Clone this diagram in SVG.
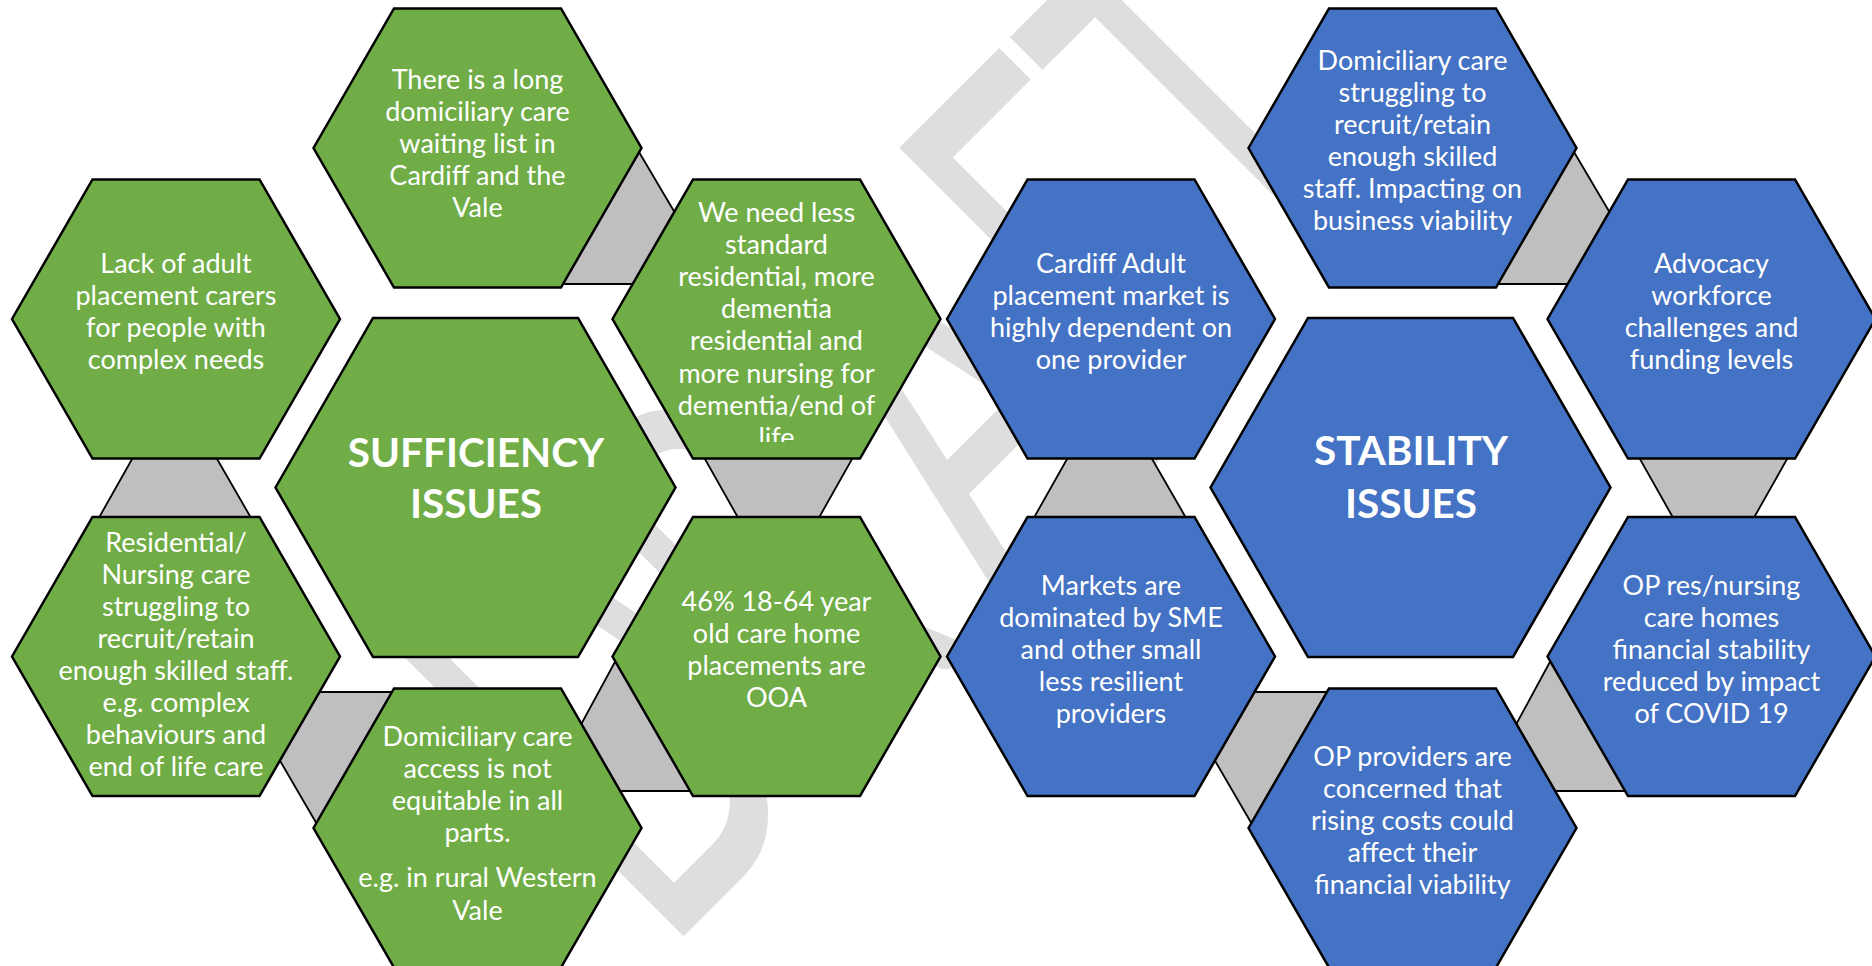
<svg xmlns="http://www.w3.org/2000/svg" xmlns:xlink="http://www.w3.org/1999/xlink" width="1872" height="966" viewBox="0 0 1872 966">
<defs>
<style>
.g{fill:#70ad47;stroke:#000;stroke-width:2.5;stroke-linejoin:miter}
.b{fill:#4472c4;stroke:#000;stroke-width:2.5;stroke-linejoin:miter}
.con{fill:#bfbfbf;stroke:#000;stroke-width:1.8;stroke-linejoin:miter}
.t{font-family:Lato,"Open Sans","Liberation Sans",sans-serif;font-size:27px;fill:#fff;text-anchor:middle}
.h{font-family:Lato,"Open Sans","Liberation Sans",sans-serif;font-size:40.5px;font-weight:bold;fill:#fff;text-anchor:middle}
.wm{font-family:Lato,"Liberation Sans",sans-serif;font-size:320px;fill:#dedede}
</style>
<path id="hs" d="M-164,0 L-83.5,-139.5 L83.5,-139.5 L164,0 L83.5,139.5 L-83.5,139.5Z"/>
<path id="hb" d="M-200,0 L-102.5,-169.5 L102.5,-169.5 L200,0 L102.5,169.5 L-102.5,169.5Z"/>
<clipPath id="clipLife"><rect x="600" y="160" width="360" height="282"/></clipPath>
</defs>
<rect width="1872" height="966" fill="#fff"/>
<g id="watermark" transform="translate(899,148) rotate(-45)">
<text class="wm" transform="translate(0,405) scale(1,1.766)"><tspan x="-739" y="0">D</tspan><tspan x="-499" y="0">R</tspan><tspan x="-252" y="0">A</tspan><tspan x="-29" y="0">F</tspan><tspan x="152" y="0">T</tspan></text>
</g>
<g id="connectors">
<polygon class="con" points="639,152 717,284 562,284"/>
<polygon class="con" points="697,445 860,445 812,530 745,530"/>
<polygon class="con" points="616,660 545,791 695,791"/>
<polygon class="con" points="318,826 240,692 398,692"/>
<polygon class="con" points="140,445 209,445 258,530 92,530"/>
<g transform="translate(935,0)">
<polygon class="con" points="639,152 717,284 562,284"/>
<polygon class="con" points="697,445 860,445 812,530 745,530"/>
<polygon class="con" points="616,660 545,791 695,791"/>
<polygon class="con" points="318,826 240,692 398,692"/>
<polygon class="con" points="140,445 209,445 258,530 92,530"/>
</g>
</g>
<g id="g-top"><use xlink:href="#hs" class="g" x="477.5" y="148"/>
<text class="t"><tspan x="477.5" y="89">There is a long</tspan><tspan x="477.5" y="121">domiciliary care</tspan><tspan x="477.5" y="153">waiting list in</tspan><tspan x="477.5" y="185">Cardiff and the</tspan><tspan x="477.5" y="217">Vale</tspan></text></g>
<g id="g-ul"><use xlink:href="#hs" class="g" x="176" y="319"/>
<text class="t"><tspan x="176" y="273">Lack of adult</tspan><tspan x="176" y="305">placement carers</tspan><tspan x="176" y="337">for people with</tspan><tspan x="176" y="369">complex needs</tspan></text></g>
<g id="g-ur"><use xlink:href="#hs" class="g" x="776.5" y="319"/>
<text class="t" clip-path="url(#clipLife)"><tspan x="776.5" y="222">We need less</tspan><tspan x="776.5" y="254">standard</tspan><tspan x="776.5" y="286">residential, more</tspan><tspan x="776.5" y="318">dementia</tspan><tspan x="776.5" y="350">residential and</tspan><tspan x="776.5" y="383">more nursing for</tspan><tspan x="776.5" y="415">dementia/end of</tspan><tspan x="776.5" y="447">life</tspan></text></g>
<g id="g-center"><use xlink:href="#hb" class="g" x="475.5" y="487.5"/>
<text class="h"><tspan x="476" y="467">SUFFICIENCY</tspan><tspan x="476" y="518">ISSUES</tspan></text></g>
<g id="g-ll"><use xlink:href="#hs" class="g" x="176" y="656.5"/>
<text class="t"><tspan x="176" y="552">Residential/</tspan><tspan x="176" y="584">Nursing care</tspan><tspan x="176" y="616">struggling to</tspan><tspan x="176" y="648">recruit/retain</tspan><tspan x="176" y="680">enough skilled staff.</tspan><tspan x="176" y="712">e.g. complex</tspan><tspan x="176" y="744">behaviours and</tspan><tspan x="176" y="776">end of life care</tspan></text></g>
<g id="g-lr"><use xlink:href="#hs" class="g" x="776.5" y="656.5"/>
<text class="t"><tspan x="776.5" y="611">46% 18-64 year</tspan><tspan x="776.5" y="643">old care home</tspan><tspan x="776.5" y="675">placements are</tspan><tspan x="776.5" y="707">OOA</tspan></text></g>
<g id="g-bottom"><use xlink:href="#hs" class="g" x="477.5" y="828"/>
<text class="t"><tspan x="477.5" y="746">Domiciliary care</tspan><tspan x="477.5" y="778">access is not</tspan><tspan x="477.5" y="810">equitable in all</tspan><tspan x="477.5" y="842">parts.</tspan><tspan x="477.5" y="887">e.g. in rural Western</tspan><tspan x="477.5" y="920">Vale</tspan></text></g>
<g id="b-top"><use xlink:href="#hs" class="b" x="1412.5" y="148"/>
<text class="t"><tspan x="1412.5" y="70">Domiciliary care</tspan><tspan x="1412.5" y="102">struggling to</tspan><tspan x="1412.5" y="134">recruit/retain</tspan><tspan x="1412.5" y="166">enough skilled</tspan><tspan x="1412.5" y="198">staff. Impacting on</tspan><tspan x="1412.5" y="230">business viability</tspan></text></g>
<g id="b-ul"><use xlink:href="#hs" class="b" x="1111" y="319"/>
<text class="t"><tspan x="1111" y="273">Cardiff Adult</tspan><tspan x="1111" y="305">placement market is</tspan><tspan x="1111" y="337">highly dependent on</tspan><tspan x="1111" y="369">one provider</tspan></text></g>
<g id="b-ur"><use xlink:href="#hs" class="b" x="1711.5" y="319"/>
<text class="t"><tspan x="1711.5" y="273">Advocacy</tspan><tspan x="1711.5" y="305">workforce</tspan><tspan x="1711.5" y="337">challenges and</tspan><tspan x="1711.5" y="369">funding levels</tspan></text></g>
<g id="b-center"><use xlink:href="#hb" class="b" x="1410.5" y="487.5"/>
<text class="h"><tspan x="1411" y="465">STABILITY</tspan><tspan x="1411" y="518">ISSUES</tspan></text></g>
<g id="b-ll"><use xlink:href="#hs" class="b" x="1111" y="656.5"/>
<text class="t"><tspan x="1111" y="595">Markets are</tspan><tspan x="1111" y="627">dominated by SME</tspan><tspan x="1111" y="659">and other small</tspan><tspan x="1111" y="691">less resilient</tspan><tspan x="1111" y="723">providers</tspan></text></g>
<g id="b-lr"><use xlink:href="#hs" class="b" x="1711.5" y="656.5"/>
<text class="t"><tspan x="1711.5" y="595">OP res/nursing</tspan><tspan x="1711.5" y="627">care homes</tspan><tspan x="1711.5" y="659">financial stability</tspan><tspan x="1711.5" y="691">reduced by impact</tspan><tspan x="1711.5" y="723">of COVID 19</tspan></text></g>
<g id="b-bottom"><use xlink:href="#hs" class="b" x="1412.5" y="828"/>
<text class="t"><tspan x="1412.5" y="766">OP providers are</tspan><tspan x="1412.5" y="798">concerned that</tspan><tspan x="1412.5" y="830">rising costs could</tspan><tspan x="1412.5" y="862">affect their</tspan><tspan x="1412.5" y="894">financial viability</tspan></text></g>
</svg>
